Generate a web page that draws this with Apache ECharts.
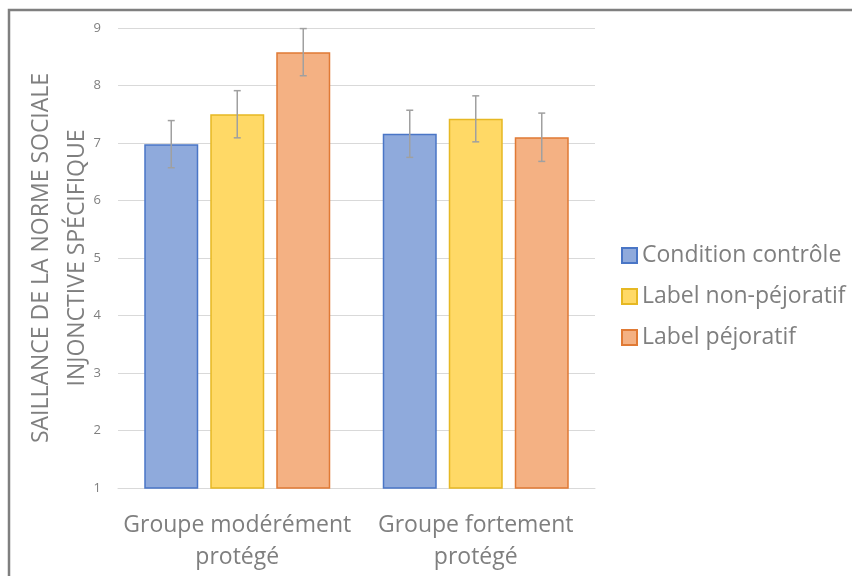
<!DOCTYPE html>
<html>
<head>
<meta charset="utf-8">
<script src="https://cdn.jsdelivr.net/npm/echarts@6/dist/echarts.min.js"></script>
<style>
html,body{margin:0;padding:0;background:#fff;}
#chart{width:852px;height:576px;}
</style>
</head>
<body>
<div id="chart"></div>
<script>
var categories = ['Groupe modérément\nprotégé', 'Groupe fortement\nprotégé'];
var seriesNames = ['Condition contrôle', 'Label non-péjoratif', 'Label péjoratif'];
var controle = [6.98, 7.16];
var nonPejoratif = [7.50, 7.42];
var pejoratif = [8.58, 7.10];
var errControle = [0.41, 0.41];
var errNonPejoratif = [0.41, 0.40];
var errPejoratif = [0.41, 0.42];
var yTicks = [1, 2, 3, 4, 5, 6, 7, 8, 9];

var values = [controle, nonPejoratif, pejoratif];
var errors = [errControle, errNonPejoratif, errPejoratif];
var fills = ['#8FAADC', '#FFD966', '#F4B183'];
var borders = ['#4A76C6', '#E6B823', '#E07A35'];
var FONT = '"Open Sans", Lato, sans-serif';
var TXT = '#7f7f7f';
var BAR_W = 54, BAR_GAP = 12;

var chart = echarts.init(document.getElementById('chart'));

var series = [];
values.forEach(function (vals, i) {
  series.push({
    name: seriesNames[i],
    type: 'bar',
    data: vals,
    barWidth: BAR_W,
    barGap: (BAR_GAP / BAR_W * 100) + '%',
    itemStyle: { color: fills[i], borderColor: borders[i], borderWidth: 1.5 }
  });
});
values.forEach(function (vals, i) {
  var errData = vals.map(function (v, k) { return [k, v - errors[i][k], v + errors[i][k]]; });
  series.push({
    type: 'custom',
    name: seriesNames[i] + ' err',
    data: errData,
    z: 10,
    silent: true,
    renderItem: function (params, api) {
      var x = api.value(0);
      var lo = api.coord([x, api.value(1)]);
      var hi = api.coord([x, api.value(2)]);
      var off = (i - 1) * (BAR_W + BAR_GAP);
      var cx = lo[0] + off;
      var cap = 3.5;
      var style = { stroke: '#a0a0a0', lineWidth: 1.5 };
      return {
        type: 'group',
        children: [
          { type: 'line', shape: { x1: cx, y1: lo[1], x2: cx, y2: hi[1] }, style: style },
          { type: 'line', shape: { x1: cx - cap, y1: lo[1], x2: cx + cap, y2: lo[1] }, style: style },
          { type: 'line', shape: { x1: cx - cap, y1: hi[1], x2: cx + cap, y2: hi[1] }, style: style }
        ]
      };
    }
  });
});

chart.setOption({
  animation: false,
  backgroundColor: '#fff',
  textStyle: { fontFamily: FONT },
  graphic: [{
    type: 'rect',
    shape: { x: 9, y: 10, width: 900, height: 600 },
    style: { fill: 'none', stroke: '#7f7f7f', lineWidth: 2.5 },
    silent: true
  }],
  grid: { left: 118, right: 257, top: 28, bottom: 88 },
  legend: {
    data: seriesNames,
    orient: 'vertical',
    left: 616,
    top: 239,
    icon: 'rect',
    itemWidth: 15,
    itemHeight: 15,
    itemGap: 18,
    textStyle: { color: TXT, fontSize: 23, lineHeight: 23, fontFamily: FONT }
  },
  xAxis: {
    type: 'category',
    data: categories,
    axisLine: { lineStyle: { color: '#d9d9d9', width: 1 } },
    axisTick: { show: false },
    axisLabel: { interval: 0, color: TXT, fontSize: 23, lineHeight: 32, margin: 21, fontFamily: FONT }
  },
  yAxis: {
    type: 'value',
    min: 1,
    max: 9,
    interval: 1,
    axisLine: { show: false },
    axisTick: { show: false },
    axisLabel: { color: TXT, fontSize: 13, margin: 17, fontFamily: FONT,
      formatter: function (v) { return yTicks.indexOf(v) >= 0 ? String(v) : ''; } },
    splitLine: { lineStyle: { color: '#d9d9d9', width: 1 } },
    name: 'SAILLANCE DE LA NORME SOCIALE\nINJONCTIVE SPÉCIFIQUE',
    nameLocation: 'middle',
    nameRotate: 90,
    nameGap: 23,
    nameMoveOverlap: false,
    nameTextStyle: { color: TXT, fontSize: 23, lineHeight: 36, fontFamily: FONT }
  },
  series: series
});
</script>
</body>
</html>
